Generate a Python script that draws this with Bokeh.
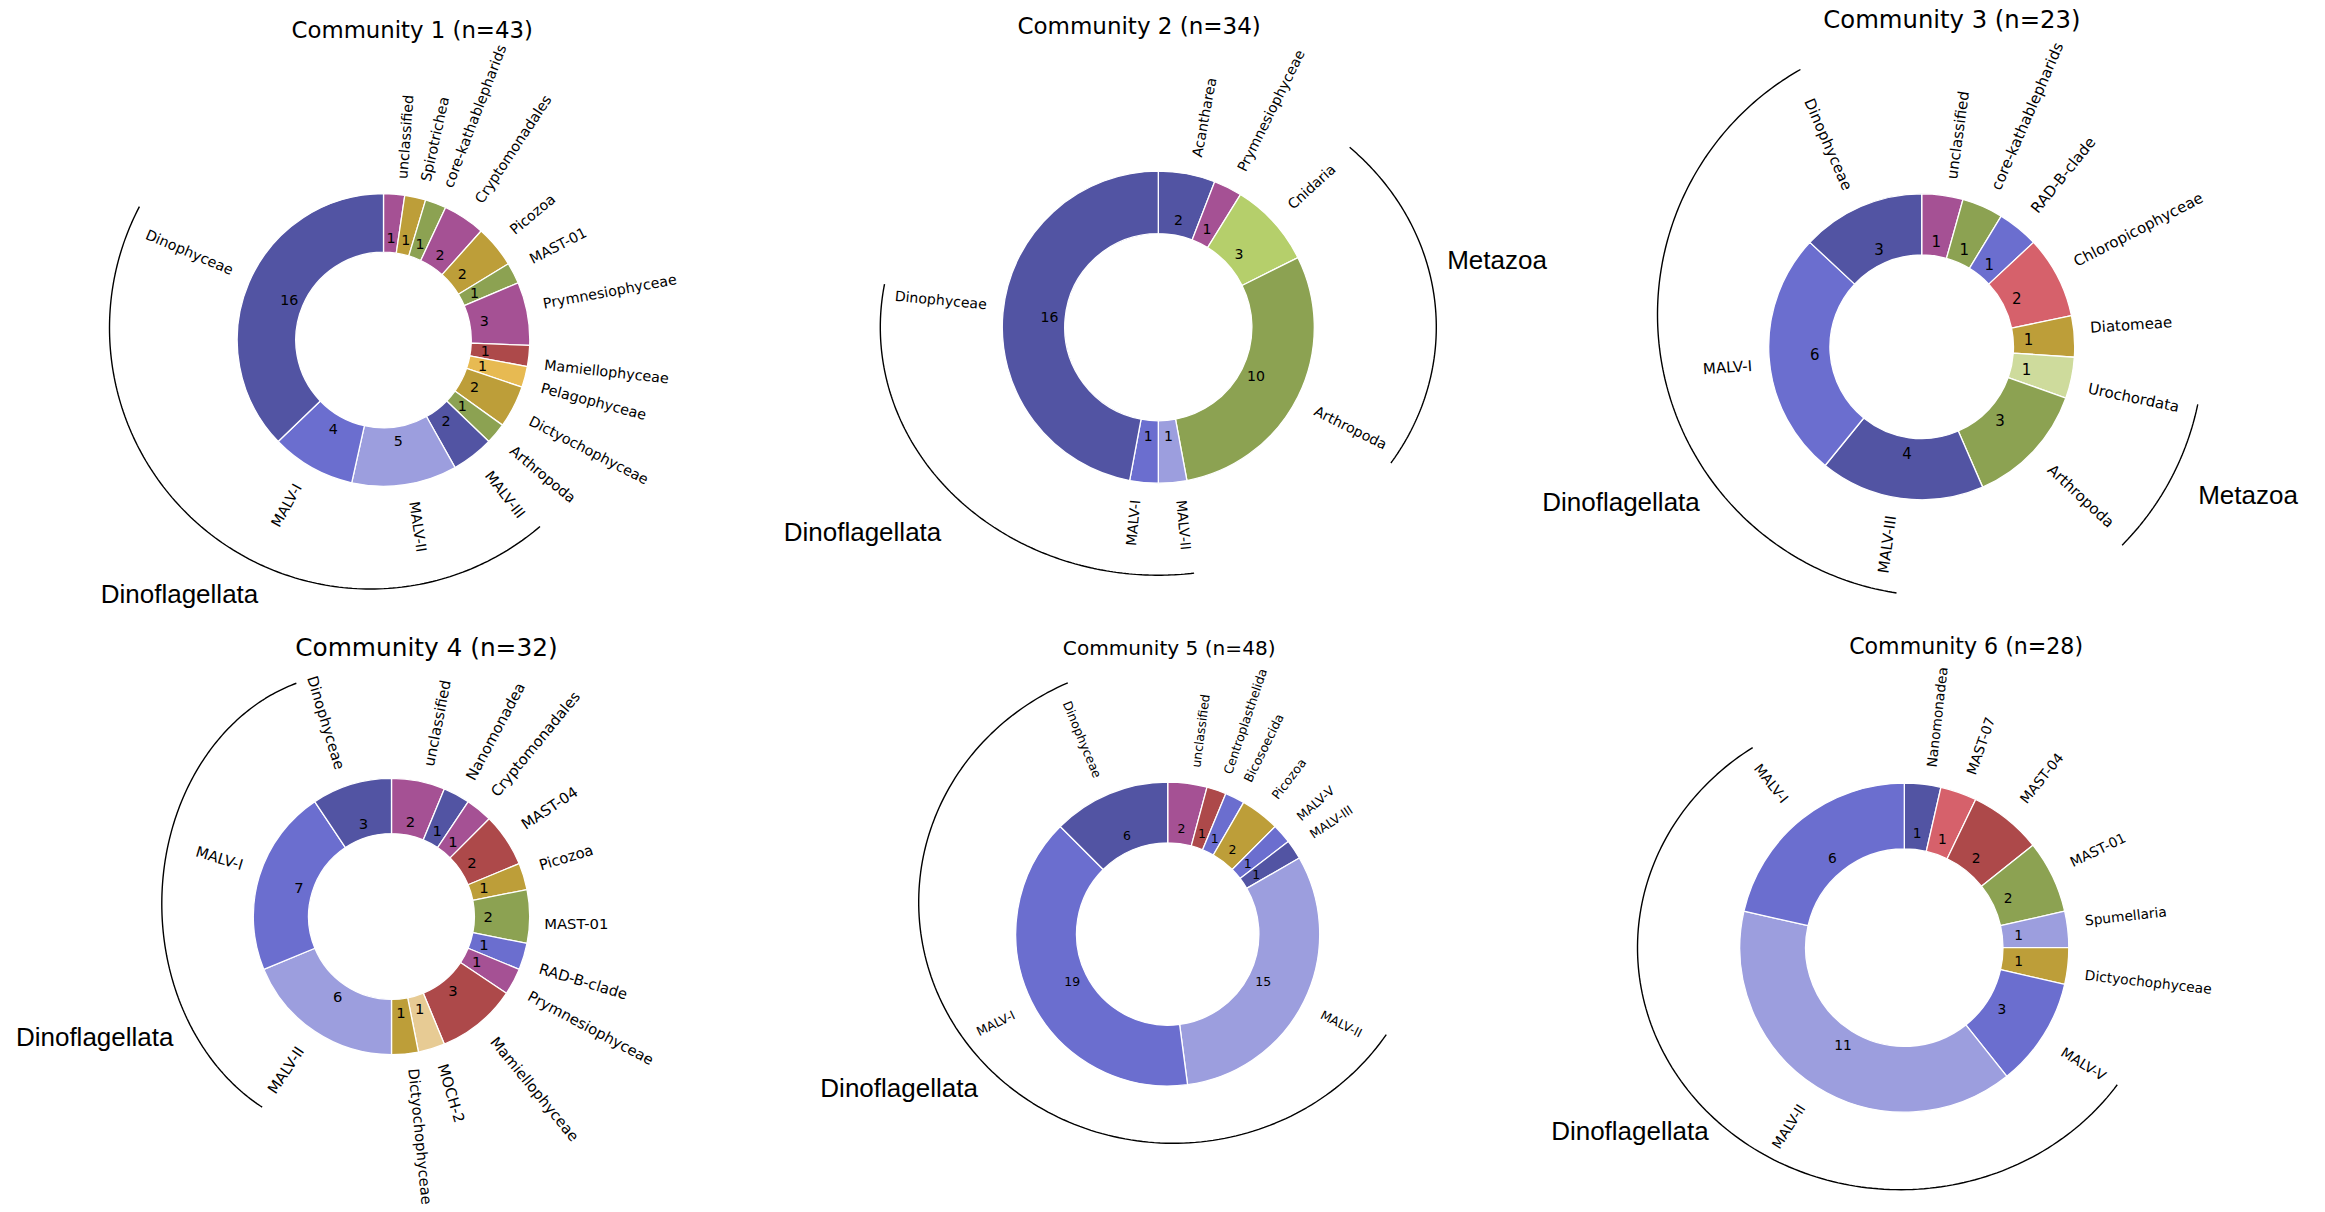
import math
from bokeh.plotting import figure
from bokeh.models import Range1d, ColumnDataSource
from bokeh.embed import file_html
from bokeh.resources import INLINE
from bokeh.core.properties import value

# ---------------- data (clockwise from 12 o'clock) ----------------
c1_taxa = ["unclassified", "Spirotrichea", "core-kathablepharids", "Cryptomonadales", "Picozoa",
           "MAST-01", "Prymnesiophyceae", "Mamiellophyceae", "Pelagophyceae", "Dictyochophyceae",
           "Arthropoda", "MALV-III", "MALV-II", "MALV-I", "Dinophyceae"]
c1_counts = [1, 1, 1, 2, 2, 1, 3, 1, 1, 2, 1, 2, 5, 4, 16]

c2_taxa = ["Acantharea", "Prymnesiophyceae", "Cnidaria", "Arthropoda", "MALV-II", "MALV-I", "Dinophyceae"]
c2_counts = [2, 1, 3, 10, 1, 1, 16]

c3_taxa = ["unclassified", "core-kathablepharids", "RAD-B-clade", "Chloropicophyceae", "Diatomeae",
           "Urochordata", "Arthropoda", "MALV-III", "MALV-I", "Dinophyceae"]
c3_counts = [1, 1, 1, 2, 1, 1, 3, 4, 6, 3]

c4_taxa = ["unclassified", "Nanomonadea", "Cryptomonadales", "MAST-04", "Picozoa", "MAST-01",
           "RAD-B-clade", "Prymnesiophyceae", "Mamiellophyceae", "MOCH-2", "Dictyochophyceae",
           "MALV-II", "MALV-I", "Dinophyceae"]
c4_counts = [2, 1, 1, 2, 1, 2, 1, 1, 3, 1, 1, 6, 7, 3]

c5_taxa = ["unclassified", "Centroplasthelida", "Bicosoecida", "Picozoa", "MALV-V", "MALV-III",
           "MALV-II", "MALV-I", "Dinophyceae"]
c5_counts = [2, 1, 1, 2, 1, 1, 15, 19, 6]

c6_taxa = ["Nanomonadea", "MAST-07", "MAST-04", "MAST-01", "Spumellaria", "Dictyochophyceae",
           "MALV-V", "MALV-II", "MALV-I"]
c6_counts = [1, 1, 2, 2, 1, 1, 3, 11, 6]

# ---------------- styles ----------------
TAXON_COLORS = {
    "Dinophyceae": "#5254a3", "MALV-I": "#6b6ecf", "MALV-II": "#9c9ede", "MALV-III": "#5254a3",
    "MALV-V": "#6b6ecf", "Arthropoda": "#8ca252", "unclassified": "#a55194", "Spirotrichea": "#bd9e39",
    "core-kathablepharids": "#8ca252", "Cryptomonadales": "#a55194", "Picozoa": "#bd9e39",
    "MAST-01": "#8ca252", "Prymnesiophyceae": "#a55194", "Mamiellophyceae": "#ad494a",
    "Pelagophyceae": "#e7ba52", "Dictyochophyceae": "#bd9e39", "Acantharea": "#5254a3",
    "Cnidaria": "#b5cf6b", "RAD-B-clade": "#6b6ecf", "Chloropicophyceae": "#d6616b",
    "Diatomeae": "#bd9e39", "Urochordata": "#cedb9c", "Nanomonadea": "#5254a3", "MAST-04": "#ad494a",
    "MOCH-2": "#e7cb94", "Centroplasthelida": "#ad494a", "Bicosoecida": "#6b6ecf",
    "MAST-07": "#d6616b", "Spumellaria": "#9c9ede",
}

# layout in page pixels (x right, y down); arcs: (dx, dy_up, a, b, t0, t1) relative to donut centre
LAYOUT = [
    dict(taxa=c1_taxa, counts=c1_counts, cx=383, cy=339.5, r=146.3, fl=14.3, ft=22.8, tx=411.7, ty=29.7,
         arcs=[(-13, 12, 261, 261, 152.3, 310.5)], groups=[("Dinoflagellata", 179, 593)]),
    dict(taxa=c2_taxa, counts=c2_counts, cx=1157.8, cy=326.7, r=156, fl=14.1, ft=23.0, tx=1138.6, ty=25.7,
         arcs=[(0, 0, 278, 248, 170, 277.4), (0, 0, 278, 248, -33.2, 46.5)],
         groups=[("Dinoflagellata", 862, 531.8), ("Metazoa", 1496.5, 259)]),
    dict(taxa=c3_taxa, counts=c3_counts, cx=1921.2, cy=346.3, r=153, fl=15.0, ft=24.3, tx=1951.4, ty=18.5,
         arcs=[(17.4, 32.2, 281.6, 281.6, 119.5, 261.3), (0, 0, 282, 282, -44.7, -11.8)],
         groups=[("Dinoflagellata", 1620.5, 501.4), ("Metazoa", 2247.5, 494.3)]),
    dict(taxa=c4_taxa, counts=c4_counts, cx=391, cy=916, r=138.2, fl=14.8, ft=24.8, tx=425.9, ty=647.2,
         arcs=[(-40, 12.7, 189.7, 230.5, 106.9, 241.9)], groups=[("Dinoflagellata", 94.2, 1036.7)]),
    dict(taxa=c5_taxa, counts=c5_counts, cx=1167.2, cy=933.5, r=152, fl=12.5, ft=20.1, tx=1168.7, ty=647.2,
         arcs=[(5.7, 31.8, 254.7, 241.1, 114.5, 326.7)], groups=[("Dinoflagellata", 898.6, 1087.9)]),
    dict(taxa=c6_taxa, counts=c6_counts, cx=1903.8, cy=947.2, r=164.5, fl=13.8, ft=22.1, tx=1965.6, ty=645.3,
         arcs=[(-3.8, 0, 263, 242, 124.2, 325.5)], groups=[("Dinoflagellata", 1629.4, 1130.2)]),
]

# DejaVu Sans advance widths (em)
DV = {' ': 0.318, '-': 0.361, '(': 0.390, ')': 0.390, '=': 0.838}
for d in "0123456789":
    DV[d] = 0.636
DV.update({'A': 0.684, 'B': 0.686, 'C': 0.698, 'D': 0.770, 'E': 0.632, 'F': 0.575, 'G': 0.775,
           'H': 0.752, 'I': 0.295, 'J': 0.295, 'K': 0.656, 'L': 0.557, 'M': 0.863, 'N': 0.748,
           'O': 0.787, 'P': 0.603, 'Q': 0.787, 'R': 0.695, 'S': 0.635, 'T': 0.611, 'U': 0.732,
           'V': 0.684, 'W': 0.989, 'X': 0.685, 'Y': 0.611, 'Z': 0.685,
           'a': 0.613, 'b': 0.635, 'c': 0.550, 'd': 0.635, 'e': 0.615, 'f': 0.352, 'g': 0.635,
           'h': 0.634, 'i': 0.278, 'j': 0.278, 'k': 0.579, 'l': 0.278, 'm': 0.974, 'n': 0.634,
           'o': 0.612, 'p': 0.635, 'q': 0.635, 'r': 0.411, 's': 0.521, 't': 0.392, 'u': 0.634,
           'v': 0.592, 'w': 0.818, 'x': 0.592, 'y': 0.592, 'z': 0.525})

W, H = 2322, 1210


def X(px):
    return px


def Y(py):
    return H - py


def mpl_label(theta_deg, r, text, fs):
    """matplotlib pie rotatelabels placement (rotate, then align bbox)."""
    th = math.radians(theta_deg)
    xt, yt = 1.1 * r * math.cos(th), 1.1 * r * math.sin(th)
    right, up = xt > 0, yt > 0
    phi = math.radians(theta_deg + (0 if right else 180))
    L = sum(DV.get(ch, 0.6) for ch in text) * fs
    h = 1.0 * fs
    ux, uy = math.cos(phi), math.sin(phi)
    vx, vy = -math.sin(phi), math.cos(phi)
    xs = [0, L * ux, h * vx, L * ux + h * vx]
    ys = [0, L * uy, h * vy, L * uy + h * vy]
    p0x = xt - (min(xs) if right else max(xs))
    p0y = yt - (min(ys) if up else max(ys))
    ymin = p0y + min(ys)
    return p0x + L / 2 * ux + h / 2 * vx, p0y + L / 2 * uy + h / 2 * vy, phi, ymin


p = figure(width=W, height=H, x_range=Range1d(0, W), y_range=Range1d(0, H),
           output_backend="svg", toolbar_location=None, min_border=0,
           x_axis_location=None, y_axis_location=None, outline_line_color=None)
p.grid.visible = False
p.background_fill_color = "white"
p.border_fill_color = "white"

for i, lay in enumerate(LAYOUT):
    taxa, counts = lay["taxa"], lay["counts"]
    total = sum(counts)
    cx, cy, r = X(lay["cx"]), Y(lay["cy"]), lay["r"]
    fs = lay["fl"]

    wd = dict(x=[], y=[], s=[], e=[], c=[])
    lb = dict(x=[], y=[], a=[], t=[])
    nb = dict(x=[], y=[], t=[])
    cum = 0
    for t, c in zip(taxa, counts):
        a_hi = 90 - 360.0 * cum / total
        a_lo = 90 - 360.0 * (cum + c) / total
        cum += c
        mid = (a_hi + a_lo) / 2
        wd["x"].append(cx); wd["y"].append(cy)
        wd["s"].append(math.radians(a_lo)); wd["e"].append(math.radians(a_hi))
        wd["c"].append(TAXON_COLORS[t])
        lx, ly, phi, ymin = mpl_label(mid, r, t, fs)
        shift = max(0.0, 2.0 - (cy + ymin))  # keep text inside the canvas
        lb["x"].append(cx + lx); lb["y"].append(cy + ly + shift); lb["a"].append(phi); lb["t"].append(t)
        m = math.radians(mid)
        nb["x"].append(cx + 0.7 * r * math.cos(m)); nb["y"].append(cy + 0.7 * r * math.sin(m))
        nb["t"].append(str(c))

    p.annular_wedge(x="x", y="y", inner_radius=0.6 * r, outer_radius=r, start_angle="s",
                    end_angle="e", direction="anticlock", fill_color="c", line_color="white",
                    line_width=1.3, source=ColumnDataSource(wd))
    p.text(x="x", y="y", text="t", angle="a", source=ColumnDataSource(lb),
           text_font=value("DejaVu Sans"), text_font_size=f"{fs:.2f}px", text_color="black",
           text_align="center", text_baseline="middle")
    p.text(x="x", y="y", text="t", source=ColumnDataSource(nb),
           text_font=value("DejaVu Sans"), text_font_size=f"{fs:.2f}px", text_color="black",
           text_align="center", text_baseline="middle")
    p.text(x=[X(lay["tx"])], y=[Y(lay["ty"])], text=[f"Community {i + 1} (n={total})"],
           text_font=value("DejaVu Sans"), text_font_size=f"{lay['ft']:.2f}px", text_color="black",
           text_align="center", text_baseline="middle")

    for (dx, dy, a, b, t0, t1) in lay["arcs"]:
        n = 160
        ts = [math.radians(t0 + (t1 - t0) * k / n) for k in range(n + 1)]
        p.line([cx + dx + a * math.cos(t) for t in ts], [cy + dy + b * math.sin(t) for t in ts],
               line_color="black", line_width=1.4)
    for (name, gx, gy) in lay["groups"]:
        p.text(x=[X(gx)], y=[Y(gy)], text=[name], text_font=value("Liberation Sans"),
               text_font_size="26px", text_color="black", text_align="center",
               text_baseline="middle")

open("out.html", "w").write(file_html(p, INLINE))
